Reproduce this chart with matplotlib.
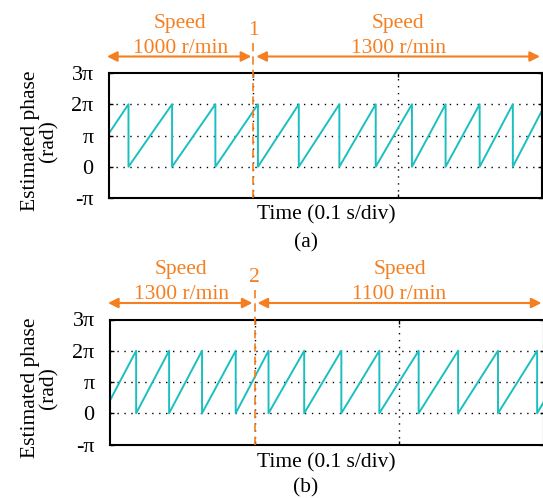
import numpy as np
import matplotlib.pyplot as plt

plt.rcParams['font.family'] = ['Liberation Serif', 'DejaVu Serif']
plt.rcParams['font.size'] = 15.5

ORANGE = '#f57f20'
TEAL = '#1cbfbf'
W, H = 543, 498

# instants (s) where the estimated phase wraps from 2*pi back to 0,
# and the phase (in units of pi) at the start / end of the window
wraps_a = [0.0135, 0.0437, 0.0737, 0.1032, 0.1315, 0.1596,
           0.1848, 0.2099, 0.2332, 0.2568, 0.2798]
start_a, end_a = 1.07, 1.80
wraps_b = [0.0181, 0.0409, 0.0637, 0.0870, 0.1097, 0.1344,
           0.1601, 0.1864, 0.2136, 0.2409, 0.2685, 0.2956]
start_b, end_b = 0.41, 0.35

t_end = 0.3
t_event = 0.1
speeds_a = ['1000 r/min', '1300 r/min']
speeds_b = ['1300 r/min', '1100 r/min']
yticks = [-1, 0, 1, 2, 3]
ytick_labels = ['-π', '0', 'π', '2π', '3π']


def sawtooth(wraps, start, end):
    t = [0.0]
    p = [start]
    for w in wraps:
        t += [w, w]
        p += [2, 0]
    t.append(t_end)
    p.append(end)
    return np.array(t), np.array(p) * np.pi


def px_axes(fig, l, t, r, b):
    return fig.add_axes([l / W, 1 - b / H, (r - l) / W, (b - t) / H])


def draw_panel(ax, t, p, event_no, speeds):
    dots = (0, (1, 4))
    for k in [0, 1, 2]:
        ax.axhline(k * np.pi, color='k', lw=1, ls=dots, zorder=1)
    for x in [0.1, 0.2]:
        ax.axvline(x, color='k', lw=1, ls=dots, zorder=1)
    ax.plot(t, p, color=TEAL, lw=1.4, zorder=2)
    ax.set_xlim(0, t_end)
    ax.set_ylim(-np.pi, 3 * np.pi)
    ax.set_yticks(np.array(yticks) * np.pi, ytick_labels)
    ax.set_xticks([0.1, 0.2], [])
    ax.tick_params(direction='in', length=3, width=1, right=True, top=True,
                   pad=11, labelsize=16)
    for s in ax.spines.values():
        s.set_linewidth(1.5)

    tr = ax.get_xaxis_transform()
    # speed step marker
    ax.plot([t_event, t_event], [0, 1.264], transform=tr, clip_on=False,
            color=ORANGE, lw=1.2, ls=(0, (5, 3)), zorder=3)
    ax.text(t_event, 1.34, str(event_no), transform=tr, color=ORANGE,
            ha='center', va='center')

    dx = 2 * t_end / 433
    spans = [(-dx, t_event - dx), (t_event + 1.5 * dx, t_end - dx)]
    for (a, b), sp in zip(spans, speeds):
        ax.annotate('', xy=(a, 1.132), xytext=(b, 1.132), xycoords=tr,
                    textcoords=tr, annotation_clip=False,
                    arrowprops=dict(arrowstyle='<|-|>', color=ORANGE, lw=1.5,
                                    mutation_scale=15, shrinkA=0, shrinkB=0))
        mid = (max(a, 0) + b) / 2
        ax.text(mid, 1.40, 'Speed', transform=tr, color=ORANGE,
                ha='center', va='center')
        ax.text(mid, 1.20, sp, transform=tr, color=ORANGE,
                ha='center', va='center')


fig = plt.figure(figsize=(W / 100, H / 100), dpi=100)

ax_a = px_axes(fig, 109, 73, 542, 198)
draw_panel(ax_a, *sawtooth(wraps_a, start_a, end_a), 1, speeds_a)
ax_b = px_axes(fig, 110, 319.5, 543.5, 444.5)
draw_panel(ax_b, *sawtooth(wraps_b, start_b, end_b), 2, speeds_b)

for yc, ytime, ytag, tag in [(141, 215, 243, '(a)'), (388, 463, 488, '(b)')]:
    fig.text(31 / W, 1 - yc / H, 'Estimated phase', rotation=90,
             ha='center', va='center')
    fig.text(49 / W, 1 - yc / H, '(rad)', rotation=90,
             ha='center', va='center')
    fig.text(326 / W, 1 - ytime / H, 'Time (0.1 s/div)', ha='center', va='center')
    fig.text(306 / W, 1 - ytag / H, tag, ha='center', va='center')

fig.savefig('out.png', dpi=100)
